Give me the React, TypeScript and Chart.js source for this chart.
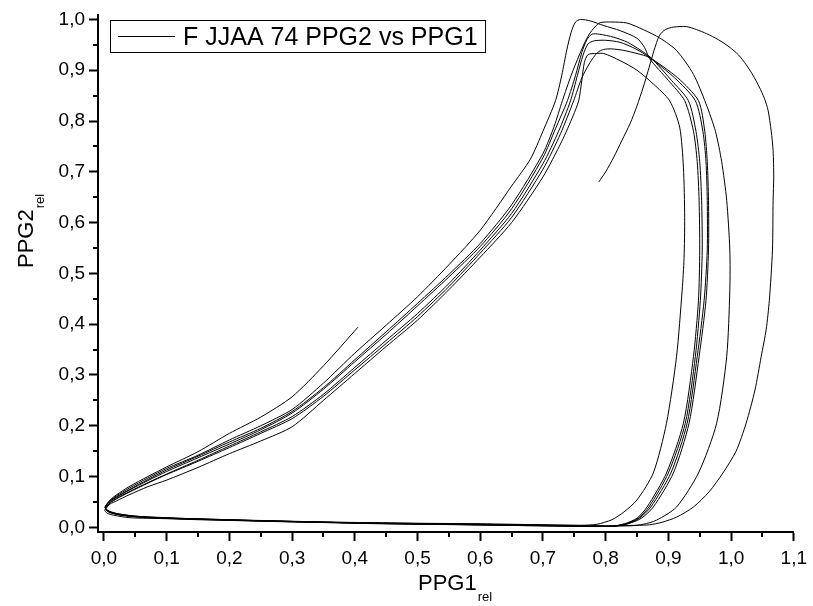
import React, { useEffect, useRef } from "react";
import { Chart, registerables } from "chart.js";

Chart.register(...registerables);

// ---- Data (PPG1_rel, PPG2_rel), in trace order ----
const seriesLabel = "F JJAA 74 PPG2 vs PPG1";
const xTitle = "PPG1";
const yTitle = "PPG2";
const subTitle = "rel";
const xTickValues = [0, 0.1, 0.2, 0.3, 0.4, 0.5, 0.6, 0.7, 0.8, 0.9, 1.0, 1.1];
const yTickValues = [0, 0.1, 0.2, 0.3, 0.4, 0.5, 0.6, 0.7, 0.8, 0.9, 1.0];
const xMinorValues = [0.05, 0.15, 0.25, 0.35, 0.45, 0.55, 0.65, 0.75, 0.85, 0.95, 1.05];
const yMinorValues = [0.05, 0.15, 0.25, 0.35, 0.45, 0.55, 0.65, 0.75, 0.85, 0.95];

const loopG = [
  [0.789, 0.68], [0.8, 0.7], [0.813, 0.729], [0.826, 0.762], [0.839, 0.795], [0.85, 0.83], [0.86, 0.867],
  [0.868, 0.9], [0.874, 0.926], [0.88, 0.95], [0.886, 0.969], [0.895, 0.98], [0.908, 0.985], [0.929, 0.986],
  [0.945, 0.98], [0.961, 0.972], [0.98, 0.96], [0.997, 0.946], [1.012, 0.93], [1.024, 0.911], [1.035, 0.89],
  [1.045, 0.867], [1.053, 0.845], [1.059, 0.821], [1.064, 0.78], [1.067, 0.742], [1.068, 0.69], [1.067, 0.644],
  [1.066, 0.546], [1.061, 0.447], [1.056, 0.39], [1.048, 0.336], [1.038, 0.27], [1.024, 0.205], [1.008, 0.15],
  [0.987, 0.107], [0.965, 0.07], [0.94, 0.04], [0.913, 0.02], [0.89, 0.01], [0.87, 0.005],
];
const bottomG = [
  [0.85, 0.004], [0.8, 0.003], [0.7, 0.005], [0.6, 0.007], [0.5, 0.008], [0.4, 0.009], [0.3, 0.011],
  [0.2, 0.014], [0.14, 0.016], [0.09, 0.018], [0.06, 0.02], [0.03, 0.024], [0.015, 0.028], [0.006, 0.033],
];
const upperA = [
  [0.002, 0.04], [0.01, 0.053], [0.02, 0.062], [0.04, 0.077], [0.07, 0.097], [0.1, 0.116], [0.15, 0.142],
  [0.2, 0.172], [0.25, 0.2], [0.3, 0.232], [0.35, 0.284], [0.4, 0.343], [0.45, 0.398], [0.5, 0.454],
  [0.55, 0.517], [0.6, 0.585], [0.65, 0.672], [0.68, 0.725], [0.7, 0.78], [0.72, 0.84], [0.73, 0.89],
  [0.738, 0.94], [0.745, 0.975], [0.752, 0.995], [0.76, 1.0], [0.776, 0.997], [0.797, 0.988], [0.823, 0.978],
  [0.85, 0.963], [0.862, 0.945],
];
const descentA = [
  [0.87, 0.923], [0.9, 0.88], [0.926, 0.84], [0.94, 0.78], [0.946, 0.72], [0.949, 0.644], [0.95, 0.546],
  [0.948, 0.447], [0.94, 0.336], [0.924, 0.205], [0.897, 0.107], [0.866, 0.04], [0.85, 0.018], [0.83, 0.007],
];
const bottomA = [
  [0.807, 0.002], [0.7, 0.004], [0.6, 0.006], [0.5, 0.007], [0.4, 0.009], [0.3, 0.012], [0.2, 0.015],
  [0.14, 0.017], [0.09, 0.019], [0.06, 0.021], [0.03, 0.025], [0.015, 0.029], [0.005, 0.034],
];
const upperB = [
  [0.002, 0.04], [0.01, 0.052], [0.02, 0.06], [0.04, 0.074], [0.07, 0.094], [0.1, 0.113], [0.15, 0.14],
  [0.2, 0.168], [0.25, 0.195], [0.3, 0.228], [0.35, 0.275], [0.4, 0.33], [0.45, 0.385], [0.5, 0.441],
  [0.55, 0.498], [0.6, 0.559], [0.65, 0.635], [0.7, 0.736], [0.718, 0.79], [0.731, 0.84], [0.745, 0.89],
  [0.758, 0.93], [0.768, 0.958], [0.776, 0.975], [0.785, 0.988], [0.792, 0.994], [0.81, 0.995],
  [0.834, 0.993], [0.86, 0.98], [0.887, 0.963], [0.913, 0.939], [0.94, 0.892], [0.96, 0.834],
];
const descentB = [
  [0.975, 0.78], [0.985, 0.72], [0.993, 0.644], [0.998, 0.546], [0.998, 0.467], [0.993, 0.336],
  [0.977, 0.205], [0.948, 0.107], [0.913, 0.04], [0.881, 0.014], [0.86, 0.006],
];
const bottomB = [
  [0.84, 0.003], [0.75, 0.003], [0.65, 0.005], [0.55, 0.007], [0.45, 0.008], [0.35, 0.01], [0.25, 0.013],
  [0.17, 0.016], [0.1, 0.018], [0.06, 0.02], [0.03, 0.023], [0.012, 0.028], [0.004, 0.033],
];
const upperC = [
  [0.002, 0.04], [0.01, 0.051], [0.02, 0.059], [0.04, 0.073], [0.07, 0.092], [0.1, 0.11], [0.15, 0.137],
  [0.2, 0.164], [0.25, 0.192], [0.3, 0.225], [0.35, 0.272], [0.4, 0.326], [0.45, 0.38], [0.5, 0.436],
  [0.55, 0.493], [0.6, 0.553], [0.65, 0.627], [0.7, 0.728], [0.72, 0.785], [0.739, 0.84], [0.752, 0.89],
  [0.762, 0.935], [0.77, 0.96], [0.778, 0.971], [0.79, 0.971], [0.813, 0.965], [0.835, 0.955], [0.855, 0.94],
];
const descentC = [
  [0.872, 0.925], [0.905, 0.88], [0.932, 0.84], [0.944, 0.78], [0.95, 0.72], [0.953, 0.644], [0.954, 0.546],
  [0.951, 0.447], [0.943, 0.336], [0.927, 0.205], [0.9, 0.107], [0.869, 0.04], [0.852, 0.018], [0.832, 0.007],
];
const bottomC = [
  [0.81, 0.002], [0.72, 0.003], [0.62, 0.005], [0.52, 0.006], [0.42, 0.008], [0.32, 0.011], [0.22, 0.014],
  [0.15, 0.016], [0.1, 0.018], [0.05, 0.021], [0.025, 0.025], [0.01, 0.029], [0.004, 0.034],
];
const upperD = [
  [0.003, 0.039], [0.01, 0.049], [0.02, 0.057], [0.04, 0.07], [0.07, 0.088], [0.1, 0.105], [0.15, 0.132],
  [0.2, 0.16], [0.25, 0.188], [0.3, 0.218], [0.35, 0.262], [0.4, 0.315], [0.45, 0.368], [0.5, 0.421],
  [0.55, 0.48], [0.6, 0.546], [0.65, 0.618], [0.7, 0.716], [0.725, 0.78], [0.744, 0.84], [0.755, 0.89],
  [0.764, 0.93], [0.772, 0.952], [0.782, 0.958], [0.8, 0.959], [0.823, 0.955], [0.848, 0.942],
];
const descentD = [
  [0.87, 0.925], [0.91, 0.885], [0.943, 0.84], [0.955, 0.78], [0.96, 0.72], [0.962, 0.644], [0.962, 0.546],
  [0.957, 0.447], [0.946, 0.336], [0.93, 0.205], [0.904, 0.107], [0.872, 0.04], [0.854, 0.018], [0.834, 0.007],
];
const bottomD = [
  [0.812, 0.002], [0.74, 0.002], [0.64, 0.004], [0.54, 0.006], [0.44, 0.007], [0.34, 0.01], [0.24, 0.013],
  [0.16, 0.016], [0.1, 0.019], [0.05, 0.022], [0.025, 0.026], [0.01, 0.03], [0.003, 0.035],
];
const upperE = [
  [0.003, 0.038], [0.01, 0.048], [0.02, 0.056], [0.04, 0.069], [0.07, 0.087], [0.1, 0.104], [0.15, 0.13],
  [0.2, 0.157], [0.25, 0.185], [0.3, 0.214], [0.35, 0.258], [0.4, 0.31], [0.45, 0.362], [0.5, 0.415],
  [0.55, 0.474], [0.6, 0.54], [0.65, 0.61], [0.7, 0.705], [0.728, 0.775], [0.749, 0.84], [0.762, 0.885],
  [0.775, 0.915], [0.787, 0.935], [0.797, 0.941], [0.81, 0.942], [0.829, 0.939], [0.85, 0.933],
];
const descentE = [
  [0.87, 0.925], [0.915, 0.885], [0.948, 0.84], [0.958, 0.78], [0.962, 0.72], [0.964, 0.644], [0.964, 0.546],
  [0.96, 0.447], [0.949, 0.336], [0.933, 0.205], [0.908, 0.107], [0.876, 0.04], [0.857, 0.018], [0.836, 0.007],
];
const bottomE = [
  [0.814, 0.002], [0.72, 0.003], [0.62, 0.004], [0.52, 0.006], [0.42, 0.008], [0.32, 0.01], [0.22, 0.013],
  [0.15, 0.015], [0.1, 0.017], [0.04, 0.019], [0.015, 0.024], [0.005, 0.028], [0.001, 0.034],
];
const upperF = [
  [0.003, 0.037], [0.01, 0.046], [0.02, 0.052], [0.04, 0.064], [0.07, 0.08], [0.1, 0.093], [0.15, 0.118],
  [0.2, 0.145], [0.25, 0.17], [0.3, 0.198], [0.35, 0.25], [0.4, 0.303], [0.45, 0.356], [0.5, 0.408],
  [0.55, 0.468], [0.6, 0.532], [0.65, 0.6], [0.7, 0.69], [0.73, 0.76], [0.748, 0.81], [0.757, 0.84],
  [0.762, 0.88], [0.766, 0.915], [0.772, 0.931], [0.785, 0.933], [0.797, 0.933],
];
const descentF = [
  [0.823, 0.919], [0.85, 0.9], [0.876, 0.873], [0.902, 0.84], [0.918, 0.788], [0.924, 0.709], [0.926, 0.61],
  [0.925, 0.53], [0.922, 0.467], [0.913, 0.336], [0.897, 0.205], [0.876, 0.107], [0.85, 0.054], [0.829, 0.03],
  [0.81, 0.015], [0.786, 0.006],
];
const bottomF = [
  [0.76, 0.004], [0.68, 0.005], [0.58, 0.006], [0.48, 0.008], [0.38, 0.01], [0.28, 0.012], [0.18, 0.015],
  [0.12, 0.017], [0.08, 0.019], [0.05, 0.021], [0.025, 0.025], [0.01, 0.03], [0.003, 0.036],
];
const upperH = [
  [0.002, 0.041], [0.01, 0.054], [0.02, 0.064], [0.04, 0.08], [0.07, 0.1], [0.1, 0.119], [0.15, 0.149],
  [0.2, 0.185], [0.25, 0.217], [0.3, 0.257], [0.35, 0.318], [0.405, 0.394],
];

const traceSegments = [
  loopG, bottomG,
  upperA, descentA, bottomA,
  upperB, descentB, bottomB,
  upperC, descentC, bottomC,
  upperD, descentD, bottomD,
  upperE, descentE, bottomE,
  upperF, descentF, bottomF,
  upperH,
];

const FONT = "'Liberation Sans', Arial, Helvetica, sans-serif";

export default function App() {
  const canvasRef = useRef<HTMLCanvasElement | null>(null);

  useEffect(() => {
    document.body.style.margin = "0";
    const canvas = canvasRef.current;
    if (!canvas) return;

    const points = traceSegments.flat().map(([x, y]) => ({ x, y }));

    const decorPlugin = {
      id: "originDecor",
      afterDraw(chart: any) {
        const ctx = chart.ctx;
        const xs = chart.scales.x;
        const ys = chart.scales.y;
        const area = chart.chartArea;
        ctx.save();
        // minor ticks
        ctx.strokeStyle = "#000";
        ctx.lineWidth = 2;
        ctx.beginPath();
        xMinorValues.forEach((v) => {
          const px = Math.round(xs.getPixelForValue(v));
          ctx.moveTo(px, area.bottom);
          ctx.lineTo(px, area.bottom + 5);
        });
        yMinorValues.forEach((v) => {
          const py = Math.round(ys.getPixelForValue(v));
          ctx.moveTo(area.left, py);
          ctx.lineTo(area.left - 5, py);
        });
        ctx.stroke();

        // legend box
        ctx.fillStyle = "#000";
        ctx.font = `25px ${FONT}`;
        ctx.textBaseline = "alphabetic";
        ctx.textAlign = "left";
        const tw = ctx.measureText(seriesLabel).width;
        const bx = 110.5, by = 20.5, bh = 32;
        ctx.lineWidth = 1;
        ctx.strokeRect(bx, by, 183 - bx + tw + 8, bh);
        ctx.beginPath();
        ctx.moveTo(118, 36.5);
        ctx.lineTo(175, 36.5);
        ctx.stroke();
        ctx.fillText(seriesLabel, 183, 45);

        // x title with subscript
        ctx.font = `22px ${FONT}`;
        const xw = ctx.measureText(xTitle).width;
        const xStart = 418;
        ctx.fillText(xTitle, xStart, 590);
        ctx.font = `13px ${FONT}`;
        ctx.fillText(subTitle, xStart + xw + 1, 601);

        // y title rotated
        ctx.translate(33, 268);
        ctx.rotate(-Math.PI / 2);
        ctx.font = `22px ${FONT}`;
        ctx.fillText(yTitle, 0, 0);
        const yw = ctx.measureText(yTitle).width;
        ctx.font = `13px ${FONT}`;
        ctx.fillText(subTitle, yw + 1, 11);
        ctx.restore();
      },
    };

    const tickFmt = (v: any) => Number(v).toFixed(1).replace(".", ",");

    const chart = new Chart(canvas, {
      type: "scatter",
      data: {
        datasets: [
          {
            label: seriesLabel,
            data: points,
            showLine: true,
            borderColor: "#000",
            backgroundColor: "#000",
            borderWidth: 1,
            pointRadius: 0,
            tension: 0.25,
            fill: false,
          },
        ],
      },
      options: {
        responsive: false,
        animation: false,
        layout: { padding: { top: 15, right: 15, left: 0, bottom: 0 } },
        plugins: {
          legend: { display: false },
          tooltip: { enabled: false },
        },
        scales: {
          x: {
            type: "linear",
            min: -0.0095,
            max: 1.1,
            afterBuildTicks: (axis: any) => {
              axis.ticks = xTickValues.map((v) => ({ value: v }));
            },
            afterFit: (axis: any) => {
              axis.height = 74;
            },
            border: { display: true, color: "#000", width: 2 },
            grid: {
              drawOnChartArea: false,
              drawTicks: true,
              tickLength: 9,
              tickWidth: 2,
              tickColor: "#000",
            },
            ticks: {
              color: "#000",
              font: { family: FONT, size: 19 },
              padding: 6,
              maxRotation: 0,
              autoSkip: false,
              callback: tickFmt,
            },
          },
          y: {
            type: "linear",
            min: -0.0092,
            max: 1.008,
            afterBuildTicks: (axis: any) => {
              axis.ticks = yTickValues.map((v) => ({ value: v }));
            },
            afterFit: (axis: any) => {
              axis.width = 98;
            },
            border: { display: true, color: "#000", width: 2 },
            grid: {
              drawOnChartArea: false,
              drawTicks: true,
              tickLength: 9,
              tickWidth: 2,
              tickColor: "#000",
            },
            ticks: {
              color: "#000",
              font: { family: FONT, size: 19 },
              padding: 4,
              autoSkip: false,
              callback: tickFmt,
            },
          },
        },
      },
      plugins: [decorPlugin],
    } as any);

    return () => chart.destroy();
  }, []);

  return (
    <div style={{ position: "absolute", left: 0, top: 0, width: 813, height: 606, background: "#fff" }}>
      <canvas ref={canvasRef} width={813} height={606} style={{ display: "block" }} />
    </div>
  );
}
